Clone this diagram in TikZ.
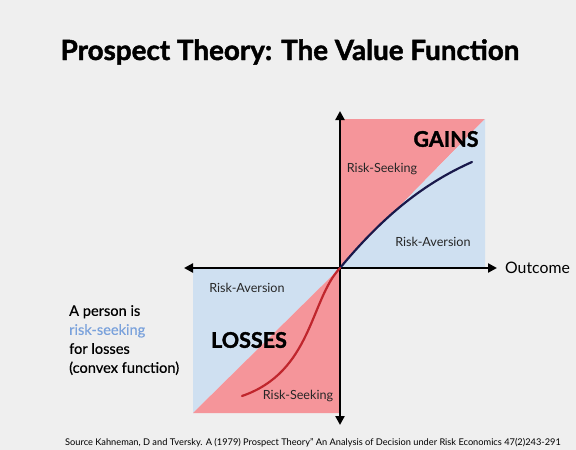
\documentclass[tikz,border=0pt]{standalone}
\usepackage{fontspec}
\setmainfont{Lato}
\newfontfamily\heavyfont{Lato}[BoldFeatures={FakeBold=1.6}]
\newfontfamily\medfont{Lato}[FakeBold=0.5]
\usetikzlibrary{arrows.meta}
\definecolor{bg}{RGB}{239,239,239}
\definecolor{redfill}{RGB}{245,149,154}
\definecolor{bluefill}{RGB}{207,224,241}
\definecolor{navy}{RGB}{25,25,75}
\definecolor{lossred}{RGB}{192,38,45}
\definecolor{lightblue}{RGB}{122,162,220}
\begin{document}
\begin{tikzpicture}[x=1pt,y=-1pt,
  axis/.style={line width=2.4pt,{Triangle[length=9pt,width=9pt]}-{Triangle[length=9pt,width=9pt]}},
  small/.style={font=\fontsize{12.6}{14}\selectfont, text=black!85},
  big/.style={font=\fontsize{21.5}{24}\selectfont\heavyfont\bfseries},
  curve/.style={line width=2.2pt,line cap=round}]
\useasboundingbox[fill=bg] (0,0) rectangle (576,450);
% regions
\fill[redfill] (340,119) -- (485,119) -- (340,267) -- cycle;
\fill[bluefill] (485,119) -- (485,267) -- (340,267) -- cycle;
\fill[bluefill] (193,268) -- (340,268) -- (193,413) -- cycle;
\fill[redfill] (340,268) -- (340,413) -- (193,413) -- cycle;
% axes
\coordinate (O) at (340,268);
\coordinate (L) at (184,268);
\coordinate (R) at (497,268);
\coordinate (T) at (340,111);
\coordinate (B) at (340,425);
\draw[axis] (L) -- (R);
\draw[axis] (B) -- (T);
% curves
\coordinate (G) at (472,162);
\coordinate (S) at (242,396);
\draw[curve,navy] (O) .. controls (380,220) and (420,185) .. (G);
\draw[curve,lossred] (O) .. controls (310,300) and (312,372) .. (S);
% labels
\node[font=\fontsize{27.8}{32}\selectfont\heavyfont\bfseries] (title) at (290,52) {Prospect Theory: The Value Function};
\node[big] (gains) at (446,139) {GAINS};
\node[big] (losses) at (249,340) {LOSSES};
\node[small] (rs1) at (382,169) {Risk-Seeking};
\node[small] (ra1) at (433,242) {Risk-Aversion};
\node[small] (ra2) at (247,288) {Risk-Aversion};
\node[small] (rs2) at (298,396) {Risk-Seeking};
\node[anchor=west,font=\fontsize{15.8}{18}\selectfont,inner sep=0pt] (outcome) at (505,268) {Outcome};
\node[anchor=north west,align=left,font=\fontsize{14.6}{19}\selectfont\medfont,inner sep=0pt] (person) at (69,305) {A person is\\\textcolor{lightblue}{risk-seeking}\\for losses\\(convex function)};
\node[font=\fontsize{9.25}{11}\selectfont] (source) at (313,443) {Source Kahneman, D and Tversky. A (1979) Prospect Theory" An Analysis of Decision under Risk Economics 47(2)243-291};
\end{tikzpicture}
\end{document}
